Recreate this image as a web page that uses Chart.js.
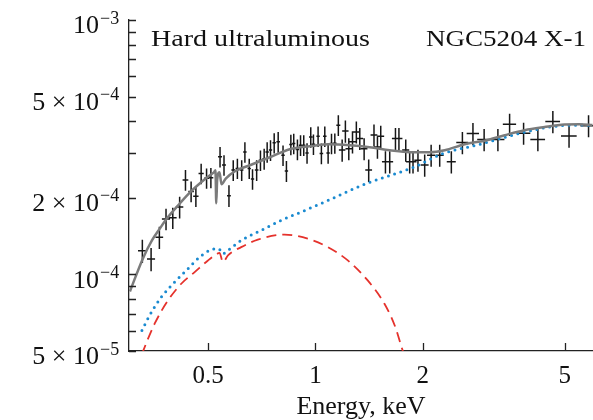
<!DOCTYPE html>
<html><head><meta charset="utf-8">
<script src="https://cdn.jsdelivr.net/npm/chart.js@4.4.1/dist/chart.umd.min.js"></script>
<style>html,body{margin:0;padding:0;background:#fff;} canvas{display:block;}</style>
</head><body>
<canvas id="c" width="593" height="420"></canvas>
<script>
// ---- observed spectrum (keV, photons flux) ----
const energy = [0.327,0.346,0.365,0.381,0.398,0.416,0.432,0.448,0.462,0.478,0.495,0.509,
  0.540,0.554,0.572,0.588,0.604,0.621,0.634,0.652,0.666,0.684,0.701,0.718,0.732,0.748,0.766,0.786,
  0.811,0.829,0.853,0.869,0.890,0.908,0.927,0.947,0.970,0.987,1.017,1.039,1.062,1.085,1.109,1.133,1.159,
  1.188,1.213,1.240,1.270,1.302,1.331,1.369,1.410,1.459,1.492,1.524,1.571,1.615,1.676,1.714,1.791,1.837,
  1.877,1.938,2.024,2.110,2.230,2.404,2.582,2.764,2.971,3.247,3.502,3.833,4.203,4.630,5.14,5.83];
const flux = [1.24e-4,1.15e-4,1.40e-4,1.65e-4,1.67e-4,1.84e-4,2.35e-4,2.12e-4,2.03e-4,2.49e-4,2.39e-4,2.40e-4,
  2.90e-4,2.69e-4,2.04e-4,2.57e-4,2.61e-4,2.57e-4,3.03e-4,2.61e-4,2.37e-4,2.57e-4,2.81e-4,2.85e-4,3.03e-4,3.08e-4,3.29e-4,3.32e-4,
  2.94e-4,2.55e-4,3.24e-4,3.27e-4,3.10e-4,3.22e-4,3.22e-4,3.00e-4,3.47e-4,3.25e-4,3.49e-4,2.99e-4,3.49e-4,3.00e-4,3.27e-4,3.28e-4,3.86e-4,
  3.08e-4,3.66e-4,3.12e-4,3.32e-4,3.63e-4,3.42e-4,3.12e-4,2.57e-4,3.53e-4,3.17e-4,3.49e-4,2.77e-4,2.77e-4,3.42e-4,3.42e-4,3.08e-4,2.77e-4,
  2.77e-4,2.81e-4,2.69e-4,2.94e-4,2.94e-4,2.77e-4,3.30e-4,3.58e-4,3.39e-4,3.39e-4,3.89e-4,3.59e-4,3.39e-4,3.99e-4,3.50e-4,3.84e-4];
const energyErr = [0.009,0.009,0.009,0.010,0.010,0.010,0.008,0.008,0.008,0.008,0.008,0.008,
  0.007,0.007,0.007,0.007,0.007,0.007,0.007,0.007,0.007,0.008,0.008,0.008,0.008,0.008,0.008,0.009,
  0.009,0.009,0.009,0.009,0.010,0.010,0.010,0.010,0.011,0.011,0.011,0.012,0.012,0.012,0.013,0.013,0.015,
  0.025,0.025,0.026,0.027,0.028,0.029,0.030,0.031,0.032,0.033,0.034,0.035,0.036,0.038,0.039,0.041,0.042,
  0.043,0.045,0.052,0.055,0.058,0.070,0.10,0.11,0.13,0.14,0.15,0.17,0.20,0.22,0.26,0.30];
const fluxErr = [0.13e-4,0.12e-4,0.14e-4,0.16e-4,0.16e-4,0.18e-4,0.22e-4,0.20e-4,0.19e-4,0.23e-4,0.22e-4,0.22e-4,
  0.27e-4,0.25e-4,0.20e-4,0.24e-4,0.24e-4,0.24e-4,0.28e-4,0.24e-4,0.22e-4,0.24e-4,0.26e-4,0.27e-4,0.28e-4,0.29e-4,0.30e-4,0.31e-4,
  0.27e-4,0.24e-4,0.30e-4,0.30e-4,0.29e-4,0.30e-4,0.30e-4,0.28e-4,0.32e-4,0.30e-4,0.32e-4,0.28e-4,0.32e-4,0.28e-4,0.30e-4,0.30e-4,0.36e-4,
  0.31e-4,0.37e-4,0.31e-4,0.33e-4,0.36e-4,0.34e-4,0.31e-4,0.26e-4,0.35e-4,0.32e-4,0.35e-4,0.28e-4,0.28e-4,0.34e-4,0.34e-4,0.31e-4,0.28e-4,
  0.28e-4,0.28e-4,0.27e-4,0.29e-4,0.29e-4,0.28e-4,0.33e-4,0.36e-4,0.34e-4,0.34e-4,0.39e-4,0.36e-4,0.34e-4,0.40e-4,0.35e-4,0.38e-4];

// ---- total model (grey solid) ----
const totalE = [0.3018,0.3282,0.3479,0.3664,0.3835,0.4169,0.4447,0.4744,0.5060,0.5193,0.5243,0.5270,0.5300,0.5381,0.5450,0.5611,
  0.5946,0.6547,0.7447,0.8472,0.9638,1.097,1.248,1.419,1.615,1.837,2.090,2.303,2.620,2.980,3.391,3.858,4.389,4.993,5.501,5.98];
const totalF = [0.857e-4,1.156e-4,1.361e-4,1.517e-4,1.661e-4,1.904e-4,2.102e-4,2.282e-4,2.453e-4,2.521e-4,2.567e-4,1.904e-4,2.345e-4,2.521e-4,2.262e-4,2.387e-4,
  2.544e-4,2.686e-4,2.888e-4,3.105e-4,3.191e-4,3.249e-4,3.22e-4,3.162e-4,3.077e-4,3.022e-4,3.022e-4,3.077e-4,3.249e-4,3.355e-4,3.526e-4,3.688e-4,3.793e-4,3.88e-4,3.896e-4,3.862e-4];

// ---- hard component (blue dotted) ----
const hardE = [0.3261,0.3427,0.3695,0.4029,0.439,0.4735,0.505,0.5305,0.5381,0.5503,0.5684,0.619,0.7041,0.801,0.9113,1.060,
  1.389,1.876,2.278,2.825,3.428,4.07,4.733,5.744,5.98];
const hardF = [0.602e-4,0.690e-4,0.814e-4,0.933e-4,1.053e-4,1.170e-4,1.243e-4,1.262e-4,1.255e-4,1.206e-4,1.243e-4,1.361e-4,1.490e-4,1.631e-4,1.759e-4,1.926e-4,
  2.276e-4,2.631e-4,2.987e-4,3.22e-4,3.472e-4,3.688e-4,3.827e-4,3.862e-4,3.86e-4];

// ---- soft component (red dashed) ----
const softE = [0.326,0.329,0.354,0.3859,0.4204,0.4584,0.4995,0.5305,0.5381,0.5503,0.5684,0.619,0.6893,0.8187,0.9513,1.083,
  1.232,1.401,1.561,1.668,1.756,1.775];
const softF = [0.485e-4,0.502e-4,0.640e-4,0.790e-4,0.919e-4,1.021e-4,1.135e-4,1.206e-4,1.215e-4,1.118e-4,1.188e-4,1.280e-4,1.370e-4,1.433e-4,1.382e-4,1.280e-4,
  1.135e-4,0.947e-4,0.767e-4,0.630e-4,0.502e-4,0.48e-4];

// ---- axes ----
const xTickValues = [0.5, 1, 2, 5];
const xTickLabels = ['0.5', '1', '2', '5'];
const yTickValues = [5e-5,6e-5,7e-5,8e-5,9e-5,1e-4,2e-4,3e-4,4e-4,5e-4,6e-4,7e-4,8e-4,9e-4,1e-3];
const yTickLabels = ['5 × 10','','','','','10','2 × 10','','','5 × 10','','','','','10'];
const yTickExponents = ['−5','','','','','−4','−4','','','−4','','','','','−3'];
const xAxisTitle = 'Energy, keV';
const titleLeft = 'Hard ultraluminous';
const titleRight = 'NGC5204 X-1';

const serif = "'Liberation Serif','Times New Roman',Times,serif";
const pts = (xs, ys) => xs.map((v, i) => ({x: v, y: ys[i]}));

const errorBars = {
  id: 'errorBars',
  beforeDatasetsDraw(chart) {
    const {ctx, scales: {x, y}} = chart;
    ctx.save();
    ctx.strokeStyle = '#161616';
    ctx.lineWidth = 1.5;
    ctx.beginPath();
    for (let i = 0; i < energy.length; i++) {
      const px = x.getPixelForValue(energy[i]);
      const py = y.getPixelForValue(flux[i]);
      ctx.moveTo(x.getPixelForValue(energy[i] - energyErr[i]), py);
      ctx.lineTo(x.getPixelForValue(energy[i] + energyErr[i]), py);
      ctx.moveTo(px, y.getPixelForValue(flux[i] - fluxErr[i]));
      ctx.lineTo(px, y.getPixelForValue(flux[i] + fluxErr[i]));
    }
    ctx.stroke();
    ctx.restore();
  }
};

const innerTicks = {
  id: 'innerTicks',
  afterDraw(chart) {
    const {ctx, chartArea: a, scales: {x, y}} = chart;
    ctx.save();
    ctx.strokeStyle = '#222';
    ctx.lineWidth = 1.3;
    ctx.beginPath();
    xTickValues.forEach(v => {
      const p = Math.round(x.getPixelForValue(v)) + 0.5;
      ctx.moveTo(p, a.bottom); ctx.lineTo(p, a.bottom - 8);
    });
    yTickValues.forEach(v => {
      const p = Math.round(y.getPixelForValue(v)) + 0.5;
      ctx.moveTo(a.left, p); ctx.lineTo(a.left + 7, p);
    });
    ctx.stroke();
    // exponents of the y tick labels
    ctx.fillStyle = '#111';
    ctx.font = '18px ' + serif;
    ctx.textAlign = 'left';
    ctx.textBaseline = 'alphabetic';
    const ex = a.left - y.options.ticks.padding + 1;
    yTickValues.forEach((v, i) => {
      if (!yTickExponents[i]) return;
      ctx.fillText(yTickExponents[i], ex, y.getPixelForValue(v) + 3.5);
    });
    ctx.restore();
  }
};

const panelText = {
  id: 'panelText',
  afterDraw(chart) {
    const {ctx} = chart;
    ctx.save();
    ctx.fillStyle = '#111';
    ctx.font = '23px ' + serif;
    ctx.textBaseline = 'alphabetic';
    const put = (txt, x, y, w, right) => {
      const m = ctx.measureText(txt).width;
      const s = w / m;
      ctx.save();
      ctx.translate(right ? x - w : x, y);
      ctx.scale(s, 1);
      ctx.fillText(txt, 0, 0);
      ctx.restore();
    };
    put(titleLeft, 151, 46, 219, false);
    put(titleRight, 586, 46, 160, true);
    ctx.restore();
  }
};

new Chart(document.getElementById('c'), {
  type: 'scatter',
  data: {
    datasets: [
      {label: 'Total model', data: pts(totalE, totalF), showLine: true, borderColor: '#7b7b7b', borderWidth: 2.5,
       pointRadius: 0, cubicInterpolationMode: 'monotone', order: 1},
      {label: 'Hard component', data: pts(hardE, hardF), showLine: true, borderColor: '#1a8ad0', borderWidth: 3,
       borderDash: [0, 6.5], borderCapStyle: 'round', pointRadius: 0, cubicInterpolationMode: 'monotone', order: 2},
      {label: 'Soft component', data: pts(softE, softF), showLine: true, borderColor: '#e5322c', borderWidth: 1.8,
       borderDash: [10, 6], pointRadius: 0, cubicInterpolationMode: 'monotone', order: 3},
      {label: 'Data', data: pts(energy, flux), showLine: false, pointRadius: 0, order: 4}
    ]
  },
  options: {
    responsive: false,
    animation: false,
    devicePixelRatio: 1,
    layout: {padding: {top: 20, right: 0, bottom: 0, left: 0}},
    plugins: {legend: {display: false}, tooltip: {enabled: false}},
    scales: {
      x: {
        type: 'logarithmic', min: 0.3, max: 6, position: 'bottom',
        grid: {display: false, drawTicks: false},
        border: {display: true, color: '#222', width: 1.3},
        afterBuildTicks: s => { s.ticks = xTickValues.map(v => ({value: v})); },
        afterFit: s => { s.height = 69; s.paddingLeft = 0; s.paddingRight = 0; },
        ticks: {autoSkip: false, maxRotation: 0, padding: 10, color: '#111',
          font: {family: serif, size: 25}, callback: (v, i) => xTickLabels[i]},
        title: {display: true, text: xAxisTitle, color: '#111',
          font: {family: serif, size: 26, lineHeight: 1}, padding: {top: 0, bottom: 0}}
      },
      y: {
        type: 'logarithmic', min: 5e-5, max: 1e-3,
        grid: {display: false, drawTicks: false},
        border: {display: true, color: '#222', width: 1.3},
        afterBuildTicks: s => { s.ticks = yTickValues.map(v => ({value: v})); },
        afterFit: s => { s.width = 129; s.paddingTop = 0; s.paddingBottom = 0; },
        ticks: {autoSkip: false, padding: 30, labelOffset: 6.5, color: '#111',
          font: {family: serif, size: 26}, callback: (v, i) => yTickLabels[i]}
      }
    }
  },
  plugins: [errorBars, innerTicks, panelText]
});
</script>
</body></html>
